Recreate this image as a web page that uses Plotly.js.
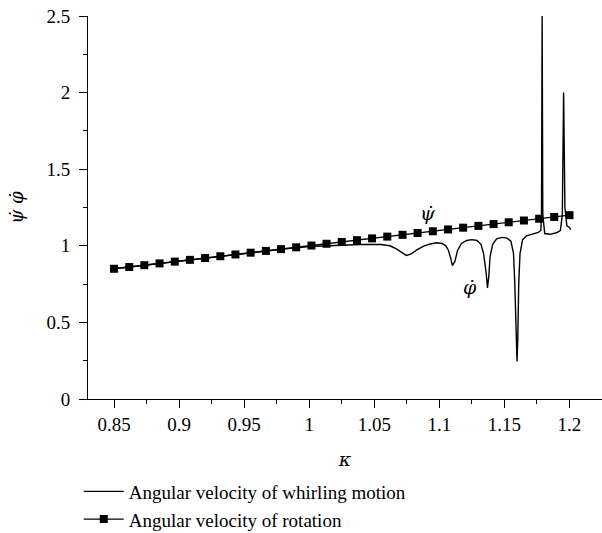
<!DOCTYPE html>
<html>
<head>
<meta charset="utf-8">
<script src="https://cdn.plot.ly/plotly-3.0.1.min.js"></script>
<style>html,body{margin:0;padding:0;background:#fff;}#chart{width:602px;height:533px;}</style>
</head>
<body>
<div id="chart"></div>
<script>
// Angular velocity of whirling motion (phi dot)
const whirlK = [0.85, 0.9, 0.95, 0.98, 1.0, 1.02, 1.04, 1.055, 1.062, 1.067, 1.071, 1.0746, 1.078, 1.083, 1.088, 1.093, 1.098, 1.102, 1.105, 1.107, 1.109, 1.110, 1.112, 1.114, 1.117, 1.121, 1.125, 1.129, 1.132, 1.134, 1.136, 1.137, 1.138, 1.139, 1.141, 1.144, 1.148, 1.152, 1.155, 1.157, 1.158, 1.159, 1.1597, 1.1603, 1.161, 1.162, 1.164, 1.167, 1.172, 1.176, 1.178, 1.1785, 1.179, 1.1795, 1.181, 1.185, 1.19, 1.193, 1.1945, 1.1955, 1.1965, 1.198, 1.2, 1.201];
const whirlV = [0.85, 0.9, 0.95, 0.978, 0.995, 1.003, 1.008, 1.008, 1.0, 0.98, 0.955, 0.937, 0.945, 0.975, 0.998, 1.012, 1.02, 1.015, 1.0, 0.97, 0.91, 0.87, 0.9, 0.97, 1.015, 1.035, 1.04, 1.035, 1.01, 0.95, 0.82, 0.725, 0.8, 0.93, 1.01, 1.045, 1.055, 1.05, 1.03, 0.95, 0.75, 0.4, 0.245, 0.4, 0.75, 0.95, 1.04, 1.065, 1.078, 1.088, 1.1, 1.2, 2.5, 1.2, 1.08, 1.075, 1.085, 1.1, 1.2, 2.0, 1.25, 1.13, 1.12, 1.105];
// Angular velocity of rotation (psi dot), square markers
const rotK = [0.85, 0.8617, 0.8733, 0.885, 0.8967, 0.9083, 0.92, 0.9317, 0.9433, 0.955, 0.9667, 0.9783, 0.99, 1.0017, 1.0133, 1.025, 1.0367, 1.0483, 1.06, 1.0717, 1.0833, 1.095, 1.1067, 1.1183, 1.13, 1.1417, 1.1533, 1.165, 1.1767, 1.1883, 1.2];
const rotV = [0.85, 0.8617, 0.8733, 0.885, 0.8967, 0.9083, 0.92, 0.9317, 0.9433, 0.955, 0.9667, 0.9783, 0.99, 1.0017, 1.0133, 1.025, 1.0367, 1.0483, 1.06, 1.0717, 1.0833, 1.095, 1.1067, 1.1183, 1.13, 1.1417, 1.1533, 1.165, 1.1767, 1.1883, 1.2];
const seriesNames = ["Angular velocity of whirling motion", "Angular velocity of rotation"];
const xTitle = "<i>κ</i>";
const yTitle = "<i>ψ̇ φ̇</i>";
const labelPsi = {k: 1.0915, v: 1.215, text: "<i>ψ̇</i>"};
const labelPhi = {k: 1.1238, v: 0.73, text: "<i>φ̇</i>"};

const FONT = "'Liberation Serif', 'DejaVu Serif', serif";
const GREEK = "'DejaVu Serif', 'Liberation Serif', serif";
const traces = [
  {x: whirlK, y: whirlV, name: seriesNames[0], type: "scatter", mode: "lines",
   line: {color: "#000", width: 1.4}},
  {x: rotK, y: rotV, name: seriesNames[1], type: "scatter", mode: "lines+markers",
   line: {color: "#000", width: 1.4}, marker: {symbol: "square", size: 8, color: "#000"}}
];
const layout = {
  width: 602, height: 533,
  margin: {l: 88, r: 0, t: 16, b: 134, autoexpand: false},
  paper_bgcolor: "#fff", plot_bgcolor: "#fff",
  font: {family: FONT, size: 19, color: "#000"},
  showlegend: true,
  legend: {x: -0.018, xanchor: "left", y: -0.192, yanchor: "top", orientation: "v",
           font: {family: FONT, size: 19, color: "#000"}, bgcolor: "rgba(0,0,0,0)",
           tracegroupgap: 0, itemwidth: 40},
  xaxis: {range: [0.83, 1.225], tick0: 0.85, dtick: 0.05, ticks: "outside", ticklen: 8,
          tickwidth: 1, tickcolor: "#000", showline: true, linecolor: "#000", linewidth: 1,
          showgrid: false, zeroline: false, tickfont: {family: FONT, size: 19},
          automargin: false,
          minor: {dtick: 0.025, tick0: 0.85, ticks: "outside", ticklen: 4, tickcolor: "#000", showgrid: false},
          title: {text: xTitle, font: {family: GREEK, size: 19}, standoff: 18}},
  yaxis: {range: [0, 2.5], tick0: 0, dtick: 0.5, ticks: "outside", ticklen: 8,
          tickwidth: 1, tickcolor: "#000", showline: true, linecolor: "#000", linewidth: 1,
          showgrid: false, zeroline: false, tickfont: {family: FONT, size: 19}, automargin: false,
          ticklabelstandoff: 5,
          minor: {dtick: 0.25, ticks: "outside", ticklen: 4, tickcolor: "#000", showgrid: false},
          title: {text: yTitle, font: {family: GREEK, size: 18}, standoff: 18}},
  annotations: [
    {x: labelPsi.k, y: labelPsi.v, text: labelPsi.text, showarrow: false, font: {family: GREEK, size: 19}},
    {x: labelPhi.k, y: labelPhi.v, text: labelPhi.text, showarrow: false, font: {family: GREEK, size: 19}}
  ]
};
Plotly.newPlot("chart", traces, layout, {displayModeBar: false, staticPlot: true});
</script>
</body>
</html>
